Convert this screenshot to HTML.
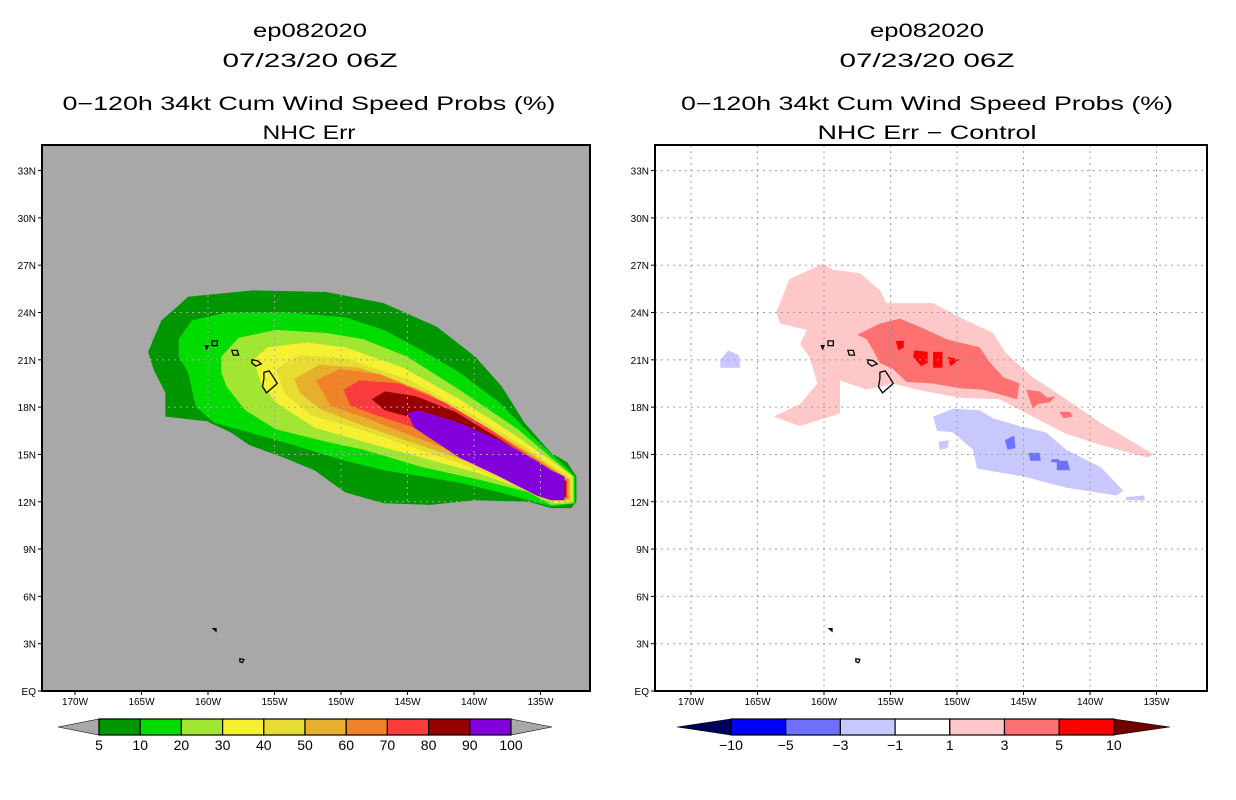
<!DOCTYPE html>
<html><head><meta charset="utf-8"><style>
html,body{margin:0;padding:0;background:#fff;}
svg{display:block;font-family:"Liberation Sans",sans-serif;}
</style></head><body>
<svg id="chart" width="1236" height="800" viewBox="0 0 1236 800" xmlns="http://www.w3.org/2000/svg">
<defs>
<clipPath id="clipL"><rect x="42" y="145" width="548" height="546"/></clipPath>
<clipPath id="clipR"><rect x="655" y="145" width="552" height="546"/></clipPath>
</defs>
<g font-size="19" text-anchor="middle" fill="#000">
<text x="310" y="37" textLength="114" lengthAdjust="spacingAndGlyphs">ep082020</text>
<text x="310" y="67" textLength="175" lengthAdjust="spacingAndGlyphs">07/23/20 06Z</text>
<text x="309" y="110" textLength="493" lengthAdjust="spacingAndGlyphs">0−120h 34kt Cum Wind Speed Probs (%)</text>
<text x="309" y="139" textLength="93" lengthAdjust="spacingAndGlyphs">NHC Err</text>
</g>
<g font-size="19" text-anchor="middle" fill="#000">
<text x="927" y="37" textLength="114" lengthAdjust="spacingAndGlyphs">ep082020</text>
<text x="927" y="67" textLength="175" lengthAdjust="spacingAndGlyphs">07/23/20 06Z</text>
<text x="927" y="110" textLength="492" lengthAdjust="spacingAndGlyphs">0−120h 34kt Cum Wind Speed Probs (%)</text>
<text x="927" y="139" textLength="219" lengthAdjust="spacingAndGlyphs">NHC Err − Control</text>
</g>
<g id="left"></g>
<g id="right"></g>
<g id="cbL"></g>
<g id="cbR"></g>
</svg>
<script>
// ---- data ----
const latTicks = [0,3,6,9,12,15,18,21,24,27,30,33];
const latLabels = ["EQ","3N","6N","9N","12N","15N","18N","21N","24N","27N","30N","33N"];
const lonTicks = [-170,-165,-160,-155,-150,-145,-140,-135];
const lonLabels = ["170W","165W","160W","155W","150W","145W","140W","135W"];
const probLevels = ["5","10","20","30","40","50","60","70","80","90","100"];
const probColors = ["#009600","#00dc00","#a0e632","#f5f032","#e6dc32","#e6af2d","#f08228","#fa3c3c","#960000","#8200dc"];
const diffLevels = ["−10","−5","−3","−1","1","3","5","10"];
const diffColors = ["#00005a","#0000ff","#7070ff","#c8c8ff","#ffffff","#ffc8c8","#ff7070","#ff0000","#6e0000"];
const prob5 = [[-161.5,25.0],[-156.6,25.4],[-151.1,25.3],[-146.8,24.6],[-142.8,23.1],[-139.9,21.2],[-137.9,19.3],[-136.2,17.0],[-134.2,15.1],[-133.0,14.5],[-132.3,13.6],[-132.3,12.0],[-132.7,11.6],[-134.2,11.6],[-135.9,12.0],[-139.9,12.1],[-143.3,11.8],[-146.8,11.9],[-149.7,12.6],[-152.0,14.0],[-154.3,14.8],[-156.9,15.6],[-158.3,16.4],[-160.1,17.1],[-163.2,17.4],[-163.2,18.9],[-164.1,20.4],[-164.5,21.5],[-163.5,23.5],[-162.4,24.3]];
const prob10 = [[-162.2,22.3],[-161.2,23.5],[-158.6,24.0],[-154.0,24.0],[-149.7,23.7],[-146.8,22.9],[-143.9,21.6],[-141.1,20.2],[-138.1,18.3],[-135.3,15.9],[-133.6,14.6],[-132.4,13.6],[-132.4,11.9],[-134.2,11.7],[-138.1,12.6],[-141.1,13.2],[-143.9,13.6],[-146.8,14.0],[-149.7,14.6],[-153.2,15.5],[-156.9,16.4],[-159.5,17.0],[-160.9,18.0],[-161.5,20.2],[-162.2,21.2]];
const prob20 = [[-159.0,21.2],[-157.7,22.4],[-154.9,22.9],[-151.1,22.7],[-148.3,22.3],[-145.0,21.2],[-141.1,19.1],[-136.7,16.6],[-134.2,14.8],[-132.5,13.6],[-132.5,11.9],[-134.2,11.8],[-135.9,12.6],[-139.6,13.4],[-143.9,14.2],[-148.3,15.3],[-151.1,15.8],[-154.9,16.6],[-157.2,17.8],[-158.6,19.3],[-159.0,20.2]];
const prob30 = [[-156.6,21.0],[-155.5,21.8],[-152.6,22.1],[-149.7,21.8],[-145.3,20.5],[-141.1,18.5],[-136.7,16.1],[-134.2,14.6],[-132.6,13.6],[-132.6,12.0],[-133.9,11.9],[-135.6,12.6],[-139.6,13.8],[-143.9,14.8],[-148.3,15.8],[-152.0,16.7],[-154.9,18.3],[-156.0,19.5]];
const prob40 = [[-154.9,20.4],[-153.1,21.3],[-149.7,21.1],[-144.8,19.7],[-140.3,17.6],[-136.2,15.5],[-132.7,13.5],[-132.7,12.0],[-134.5,12.1],[-139.6,14.0],[-144.1,15.3],[-148.6,16.6],[-152.3,17.5],[-154.2,18.8]];
const prob50 = [[-153.5,19.8],[-151.6,20.7],[-148.6,20.5],[-144.1,19.1],[-140.0,17.2],[-136.0,15.2],[-132.8,13.4],[-132.8,12.1],[-134.6,12.2],[-139.6,14.3],[-144.1,15.6],[-148.6,16.9],[-151.6,17.9],[-153.1,18.9]];
const prob60 = [[-151.9,19.7],[-150.1,20.4],[-147.1,20.1],[-143.3,18.8],[-139.6,16.9],[-135.8,15.0],[-132.9,13.4],[-132.9,12.2],[-134.8,12.4],[-139.6,14.6],[-144.1,16.0],[-147.8,17.2],[-150.8,18.1]];
const prob70 = [[-149.8,19.1],[-148.6,19.7],[-145.6,19.5],[-142.2,18.3],[-138.8,16.6],[-135.4,14.6],[-133.0,13.3],[-133.0,12.2],[-134.9,12.5],[-139.6,15.0],[-144.1,16.6],[-147.4,17.5],[-149.3,18.1]];
const prob80 = [[-147.7,18.5],[-146.7,19.0],[-144.4,18.7],[-141.4,17.7],[-138.1,16.0],[-135.1,14.3],[-133.1,13.3],[-133.1,12.3],[-135.1,12.6],[-139.6,15.2],[-144.1,17.2],[-146.7,17.8]];
const prob90 = [[-145.0,17.6],[-144.2,17.8],[-141.1,17.0],[-138.1,15.9],[-135.3,14.6],[-134.2,14.0],[-133.2,13.6],[-133.2,12.1],[-134.2,12.1],[-135.3,12.4],[-138.1,13.6],[-141.1,14.8],[-144.5,16.7]];
const diffPos1 = [[-163.6,24.0],[-162.6,26.1],[-160.1,27.1],[-159.3,26.7],[-157.3,26.5],[-155.8,25.4],[-155.3,24.6],[-151.8,24.6],[-149.8,23.7],[-147.3,22.7],[-146.3,21.4],[-144.3,19.9],[-141.8,18.5],[-139.2,17.0],[-135.2,15.0],[-135.7,14.8],[-139.2,15.6],[-141.8,16.3],[-144.3,17.4],[-146.8,18.5],[-149.8,18.6],[-153.0,19.1],[-154.8,19.5],[-156.8,19.1],[-158.8,19.7],[-158.8,17.6],[-161.8,16.8],[-163.8,17.4],[-161.8,18.2],[-160.5,19.5],[-161.1,21.2],[-161.8,22.0],[-161.3,22.9],[-163.3,23.3]];
const diffPos3 = [[-157.5,22.6],[-155.8,23.3],[-154.3,23.6],[-152.8,23.1],[-150.8,22.3],[-149.3,22.0],[-148.3,21.8],[-147.5,20.8],[-146.5,19.9],[-145.3,19.5],[-145.5,18.5],[-148.0,19.1],[-149.8,19.2],[-151.8,19.5],[-153.8,19.6],[-154.8,20.4],[-155.8,20.8],[-156.3,21.6],[-156.8,22.3]];
const diffPos3b = [[-144.8,19.1],[-143.8,19.0],[-143.2,18.6],[-142.6,18.7],[-143.0,18.3],[-143.9,18.2],[-144.3,17.9]];
const diffPos3c = [[-142.3,17.7],[-141.5,17.7],[-141.3,17.4],[-142.0,17.3]];
const diffPos5a = [[-154.6,22.2],[-154.0,22.2],[-154.0,21.8],[-154.4,21.6]];
const diffPos5b = [[-153.2,21.6],[-152.2,21.5],[-152.2,20.8],[-152.7,20.6],[-153.3,21.2]];
const diffPos5c = [[-151.8,21.5],[-151.1,21.5],[-151.1,20.5],[-151.8,20.5]];
const diffPos5d = [[-150.7,21.2],[-149.8,21.0],[-150.5,20.6]];
const diffNeg1 = [[-151.8,17.4],[-150.3,17.9],[-148.3,17.8],[-147.3,17.3],[-145.3,16.8],[-143.3,16.4],[-141.8,15.3],[-139.2,14.2],[-137.5,12.7],[-138.0,12.4],[-141.8,12.9],[-145.0,13.6],[-148.5,14.1],[-148.8,15.3],[-150.3,16.4],[-151.5,16.5]];
const diffNeg1b = [[-167.8,21.0],[-167.2,21.6],[-166.4,21.3],[-166.3,20.5],[-167.8,20.5]];
const diffNeg1c = [[-151.4,15.8],[-150.6,15.9],[-150.7,15.4],[-151.3,15.3]];
const diffNeg1d = [[-137.3,12.3],[-135.9,12.4],[-135.9,12.1],[-137.3,12.1]];
const diffNeg3a = [[-146.4,15.9],[-145.7,16.2],[-145.6,15.4],[-146.2,15.3]];
const diffNeg3b = [[-144.6,15.1],[-143.8,15.1],[-143.7,14.6],[-144.5,14.6]];
const diffNeg3c = [[-142.9,14.7],[-142.3,14.7],[-142.4,14.5],[-142.9,14.5]];
const diffNeg3d = [[-142.5,14.6],[-141.7,14.6],[-141.5,14.0],[-142.5,14.0]];
const island1 = [[-155.8,20.2],[-155.4,20.3],[-155.0,19.8],[-154.8,19.5],[-155.2,19.2],[-155.6,18.9],[-155.9,19.3],[-155.8,19.8]];
const island2 = [[-156.7,21.0],[-156.3,20.95],[-156.0,20.75],[-156.4,20.6],[-156.7,20.8]];
const island3 = [[-158.2,21.6],[-157.8,21.6],[-157.7,21.3],[-158.1,21.3]];
const island4 = [[-159.7,22.2],[-159.3,22.2],[-159.3,21.9],[-159.7,21.9]];
const island5 = [[-160.2,21.9],[-160.0,21.9],[-160.1,21.7]];
const island6 = [[-159.6,3.95],[-159.4,3.95],[-159.4,3.8]];
const island7 = [[-157.6,2.05],[-157.3,2.0],[-157.4,1.8],[-157.6,1.85]];
const islands = [island1,island2,island3,island4,island5,island6,island7];

// ---- drawing ----
const NS = "http://www.w3.org/2000/svg";
function mk(tag, attrs, parent){ const e=document.createElementNS(NS,tag); for(const k in attrs) e.setAttribute(k,attrs[k]); parent.appendChild(e); return e; }
function panel(x0, x1, gid, clip){
  const o = {x0:x0, x1:x1, y0:145, y1:691};
  o.px = lon => (x0===42?341:957) + (lon+150)*13.3;
  o.py = lat => 691 - lat*15.77;
  o.g = document.getElementById(gid);
  o.clip = clip;
  return o;
}
function poly(P, pts, fill, stroke, name){
  const d = pts.map((p,i)=>(i?"L":"M")+P.px(p[0]).toFixed(1)+","+P.py(p[1]).toFixed(1)).join("")+"Z";
  const e = mk("path",{d:d,fill:fill,stroke:stroke||"none","stroke-width":stroke?1.3:0,"clip-path":"url(#"+P.clip+")"},P.g);
  
  
}
function axes(P, bg){
  const r = mk("rect",{x:P.x0,y:P.y0,width:P.x1-P.x0,height:P.y1-P.y0,fill:bg},P.g);
  
  
}
function grid(P, col){
  const g = mk("g",{stroke:col,"stroke-width":1,"stroke-dasharray":"2,4","clip-path":"url(#"+P.clip+")"},P.g);
  
  
  latTicks.forEach(l=>{ if(l>0) mk("line",{x1:P.x0,x2:P.x1,y1:P.py(l),y2:P.py(l)},g); });
  lonTicks.forEach(l=>{ mk("line",{x1:P.px(l),x2:P.px(l),y1:P.y0,y2:P.y1},g); });
}
function frame(P){
  const f = mk("rect",{x:P.x0,y:P.y0,width:P.x1-P.x0,height:P.y1-P.y0,fill:"none",stroke:"#000","stroke-width":2},P.g);
  
  
  latTicks.forEach((l,i)=>{
    mk("line",{x1:P.x0-4,x2:P.x0,y1:P.py(l),y2:P.py(l),stroke:"#000"},P.g);
    const t = mk("text",{x:P.x0-6,y:P.py(l)+4,"font-size":10,"text-anchor":"end"},P.g);
    t.textContent = latLabels[i];
    
    
  });
  lonTicks.forEach((l,i)=>{
    mk("line",{x1:P.px(l),x2:P.px(l),y1:P.y1,y2:P.y1+4,stroke:"#000"},P.g);
    const t = mk("text",{x:P.px(l),y:P.y1+14,"font-size":10,"text-anchor":"middle"},P.g);
    t.textContent = lonLabels[i];
    
    
  });
}
const L = panel(42,590,"left","clipL");
axes(L,"#a8a8a8");
[prob5,prob10,prob20,prob30,prob40,prob50,prob60,prob70,prob80,prob90].forEach((p,i)=>poly(L,p,probColors[i],null,"contour-"+probLevels[i]+"pct"));
grid(L,"#a8a8a8");
islands.forEach(p=>poly(L,p,"none","#000","island-outline"));
frame(L);

const R = panel(655,1207,"right","clipR");
axes(R,"#ffffff");
poly(R,diffPos1,diffColors[5],null,"diff-pos-1to3");
[diffPos3,diffPos3b,diffPos3c].forEach(p=>poly(R,p,diffColors[6],null,"diff-pos-3to5"));
[diffPos5a,diffPos5b,diffPos5c,diffPos5d].forEach(p=>poly(R,p,diffColors[7],null,"diff-pos-5to10"));
[diffNeg1,diffNeg1b,diffNeg1c,diffNeg1d].forEach(p=>poly(R,p,diffColors[3],null,"diff-neg-1to3"));
[diffNeg3a,diffNeg3b,diffNeg3c,diffNeg3d].forEach(p=>poly(R,p,diffColors[2],null,"diff-neg-3to5"));
grid(R,"#a0a0a0");
islands.forEach(p=>poly(R,p,"none","#000","island-outline"));
frame(R);

function colorbar(gid, x0, w, tipL, tipR, colors, labels, shift){
  const g = document.getElementById(gid);
  const y0=719, y1=735, ym=727;
  const n = colors.length - 2;
  const t1 = mk("path",{d:`M${tipL},${ym}L${x0},${y0}L${x0},${y1}Z`,fill:colors[0],stroke:"#000","stroke-width":0.6},g);
  
  
  const xe = x0 + n*w;
  const t2 = mk("path",{d:`M${xe},${y0}L${tipR},${ym}L${xe},${y1}Z`,fill:colors[colors.length-1],stroke:"#000","stroke-width":0.6},g);
  
  
  for(let i=0;i<n;i++){
    const r = mk("rect",{x:x0+i*w,y:y0,width:w,height:y1-y0,fill:colors[i+1],stroke:"#000","stroke-width":1.2},g);
    
    
  }
  labels.forEach((lb,i)=>{
    const t = mk("text",{x:x0+(i+shift)*w,y:750,"font-size":14,"text-anchor":"middle"},g);
    t.textContent = lb;
    
    
  });
}
colorbar("cbL", 99, 41.2, 58, 552, ["#a8a8a8"].concat(probColors,["#a8a8a8"]), probLevels, 0);
colorbar("cbR", 731, 54.7, 677, 1170, diffColors, diffLevels, 0);
</script>
</body></html>
